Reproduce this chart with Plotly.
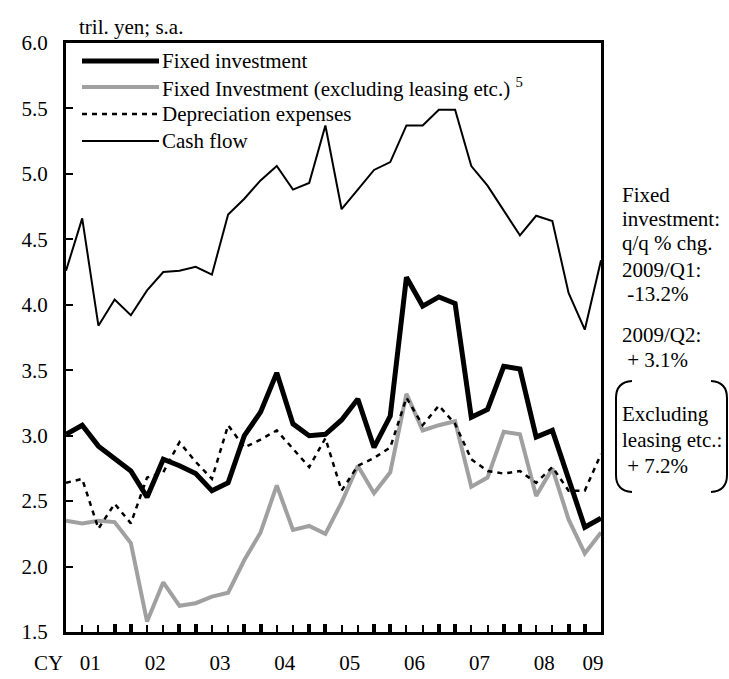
import plotly.graph_objects as go

# ---------------- data ----------------
quarters = [f"{y}Q{q}" for y in range(2001, 2010) for q in range(1, 5)][:34]
year_labels = ["01", "02", "03", "04", "05", "06", "07", "08", "09"]

fixed_investment = [3.01, 3.08, 2.92, 2.83, 2.73, 2.53, 2.82, 2.77, 2.71, 2.58,
                    2.64, 3.00, 3.18, 3.48, 3.09, 3.00, 3.01, 3.12, 3.28, 2.91,
                    3.15, 4.21, 3.99, 4.06, 4.01, 3.14, 3.20, 3.53, 3.51, 2.99,
                    3.04, 2.67, 2.30, 2.37]
fixed_inv_ex_leasing = [2.35, 2.33, 2.35, 2.34, 2.18, 1.58, 1.88, 1.70, 1.72, 1.77,
                        1.80, 2.05, 2.26, 2.62, 2.28, 2.31, 2.25, 2.49, 2.77, 2.56,
                        2.72, 3.32, 3.04, 3.08, 3.11, 2.61, 2.68, 3.03, 3.01, 2.54,
                        2.75, 2.36, 2.10, 2.26]
depreciation = [2.64, 2.67, 2.29, 2.48, 2.33, 2.68, 2.72, 2.95, 2.80, 2.67,
                3.08, 2.91, 2.97, 3.04, 2.90, 2.76, 2.98, 2.58, 2.77, 2.83,
                2.91, 3.29, 3.08, 3.23, 3.09, 2.82, 2.73, 2.71, 2.73, 2.64,
                2.76, 2.58, 2.58, 2.86]
cash_flow = [4.26, 4.66, 3.84, 4.04, 3.92, 4.11, 4.25, 4.26, 4.29, 4.23,
             4.69, 4.81, 4.95, 5.06, 4.88, 4.93, 5.37, 4.73, 4.88, 5.03,
             5.09, 5.37, 5.37, 5.49, 5.49, 5.06, 4.91, 4.72, 4.53, 4.68,
             4.64, 4.09, 3.81, 4.34]

series_names = ["Fixed investment",
                "Fixed Investment (excluding leasing etc.) <sup>5</sup>",
                "Depreciation expenses",
                "Cash flow"]
side_notes = [["Fixed", "investment:", "q/q % chg."],
              ["2009/Q1:", " -13.2%"],
              ["2009/Q2:", " + 3.1%"],
              ["Excluding", "leasing etc.:", " + 7.2%"]]

# ---------------- layout helpers ----------------
W, H = 729, 679
L, R, T, B = 66, 128, 43, 47
PW, PH = W - L - R, H - T - B
FONT = "Liberation Serif"
FS = 21

def px(xp):
    return (xp - L) / PW

def py(yp):
    return (H - B - yp) / PH

x = list(range(len(quarters)))
n = len(quarters)
year_pos = [4 * i + 1.5 for i in range(len(year_labels) - 1)] + [n - 1.5]
thick_ticks = [i for i in x if i % 4 in (0, 3) and 0 < i < n - 1]

GRAY = "#a0a0a0"
fig = go.Figure()
fig.add_trace(go.Scatter(x=x, y=fixed_inv_ex_leasing, mode="lines",
                         line=dict(color=GRAY, width=4), name=series_names[1]))
fig.add_trace(go.Scatter(x=x, y=depreciation, mode="lines",
                         line=dict(color="black", width=2.5, dash="5px,5px"), name=series_names[2]))
fig.add_trace(go.Scatter(x=x, y=cash_flow, mode="lines",
                         line=dict(color="black", width=2), name=series_names[3]))
fig.add_trace(go.Scatter(x=x, y=fixed_investment, mode="lines",
                         line=dict(color="black", width=5), name=series_names[0]))
# carrier for the year-label axis
fig.add_trace(go.Scatter(x=x, y=cash_flow, xaxis="x2", mode="none",
                         showlegend=False, hoverinfo="skip"))

fig.update_layout(
    template="none",
    width=W, height=H,
    margin=dict(l=L, r=R, t=T, b=B, autoexpand=False),
    paper_bgcolor="white", plot_bgcolor="white",
    showlegend=False,
    font=dict(family=FONT, size=FS, color="black"),
    xaxis=dict(range=[0, n - 1], showgrid=False, zeroline=False, automargin=False,
               showline=True, linecolor="black", linewidth=3, mirror=True,
               tickmode="array", tickvals=thick_ticks, showticklabels=False,
               ticks="inside", ticklen=8, tickwidth=4, tickcolor="black",
               minor=dict(tickmode="array", tickvals=x, ticks="inside",
                          ticklen=7, tickwidth=1.5, tickcolor="black", showgrid=False)),
    xaxis2=dict(range=[0, n - 1], overlaying="x", anchor="y", side="bottom",
                showgrid=False, zeroline=False, showline=False, automargin=False,
                tickmode="array", tickvals=year_pos, ticktext=year_labels,
                ticks="outside", ticklen=12, tickcolor="rgba(0,0,0,0)",
                tickfont=dict(family=FONT, size=FS)),
    yaxis=dict(range=[1.5, 6.0], dtick=0.5, tickformat=".1f", automargin=False,
               showgrid=False, zeroline=False,
               showline=True, linecolor="black", linewidth=3, mirror=True,
               ticks="inside", ticklen=7, tickwidth=2, tickcolor="black",
               ticklabelstandoff=11, tickfont=dict(family=FONT, size=FS)),
)

annotations = []
shapes = []
# axis title
annotations.append(dict(xref="paper", yref="paper", x=px(77), y=py(27), text="tril. yen; s.a.",
                        showarrow=False, xanchor="left", yanchor="middle",
                        font=dict(family=FONT, size=FS)))
annotations.append(dict(xref="paper", yref="paper", x=px(48), y=py(663), text="CY",
                        showarrow=False, xanchor="center", yanchor="middle",
                        font=dict(family=FONT, size=FS)))

# manual legend
leg_rows = [61, 87, 114, 141]
leg_styles = [dict(color="black", width=5),
              dict(color=GRAY, width=4),
              dict(color="black", width=2.5, dash="5px,5px"),
              dict(color="black", width=2)]
for row, k in zip(leg_rows, range(4)):
    shapes.append(dict(type="line", xref="paper", yref="paper",
                       x0=px(82), x1=px(159), y0=py(row), y1=py(row), line=leg_styles[k]))
    annotations.append(dict(xref="paper", yref="paper", x=px(160), y=py(row),
                            text=series_names[k], showarrow=False,
                            xanchor="left", yanchor="middle",
                            font=dict(family=FONT, size=FS)))

# right-side notes
note_ys = [[195, 219, 243], [270, 294], [335, 360], [414, 440, 466]]
for lines, ys in zip(side_notes, note_ys):
    for t, yy in zip(lines, ys):
        annotations.append(dict(xref="paper", yref="paper", x=px(620), y=py(yy), text=t,
                                showarrow=False, xanchor="left", yanchor="middle",
                                font=dict(family=FONT, size=FS)))

# brackets
def path_px(cmds):
    out = []
    for c in cmds:
        out.append(c if isinstance(c, str) else f"{px(c[0]):.5f},{py(c[1]):.5f}")
    return " ".join(out)

lb = path_px(["M", (632, 381), "Q", (616, 382), (616, 398), "L", (616, 475), "Q", (616, 491), (632, 492)])
rb = path_px(["M", (711, 381), "Q", (727, 382), (727, 398), "L", (727, 475), "Q", (727, 491), (711, 492)])
for p in (lb, rb):
    shapes.append(dict(type="path", xref="paper", yref="paper", path=p,
                       line=dict(color="black", width=2)))

fig.update_layout(annotations=annotations, shapes=shapes)
fig.write_html("out.html", config={"displayModeBar": False},
               post_script="document.body.style.margin='0';document.body.style.overflow='hidden';")
